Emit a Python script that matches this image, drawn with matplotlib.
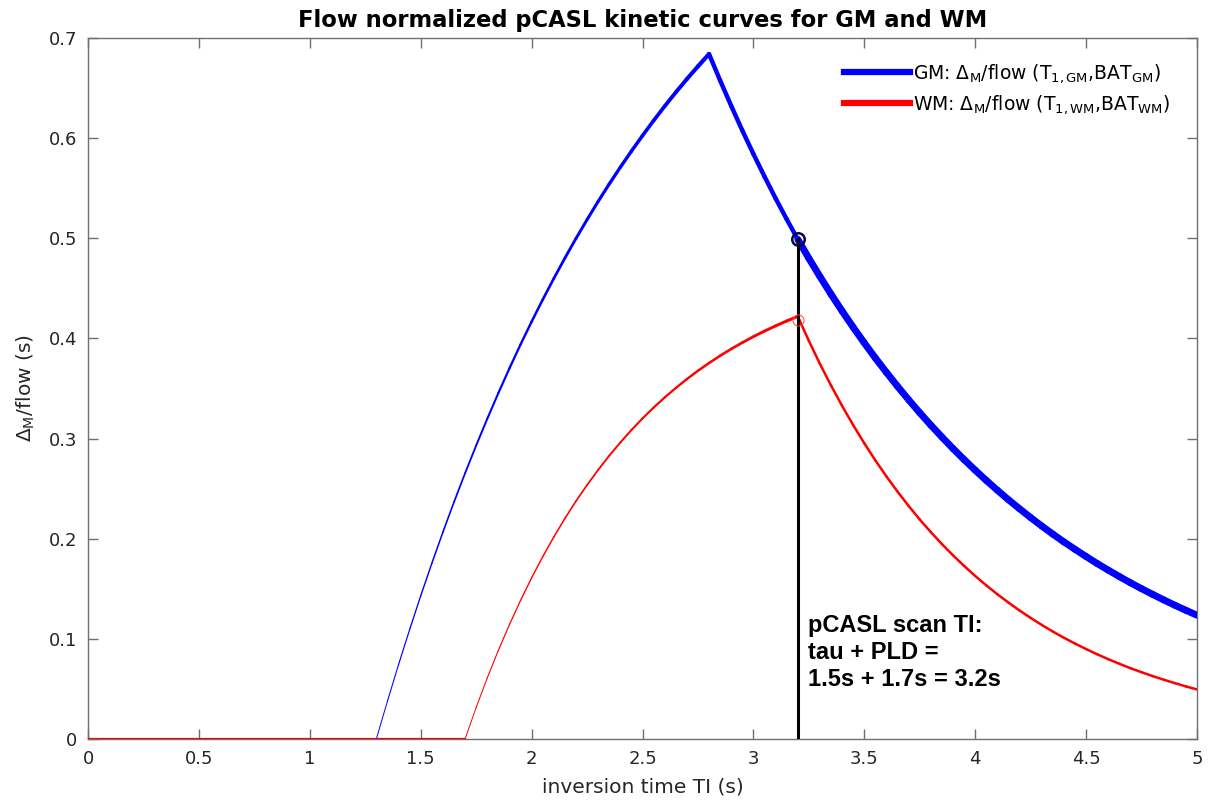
import numpy as np
import matplotlib
matplotlib.use('Agg')
import matplotlib.pyplot as plt
from matplotlib.collections import LineCollection
from matplotlib.lines import Line2D

plt.rcParams['mathtext.default'] = 'regular'

# inversion time (s) and flow-normalized signal (s)
ti_gm = [0.0, 1.3, 1.35, 1.4, 1.45, 1.5, 1.55, 1.6, 1.65, 1.7, 1.75, 1.8, 1.85, 1.9,
         1.95, 2.0, 2.05, 2.1, 2.15, 2.2, 2.25, 2.3, 2.35, 2.4, 2.45, 2.5, 2.55, 2.6,
         2.65, 2.7, 2.75, 2.8, 2.85, 2.9, 2.95, 3.0, 3.05, 3.1, 3.15, 3.2, 3.25, 3.3,
         3.35, 3.4, 3.45, 3.5, 3.55, 3.6, 3.65, 3.7, 3.75, 3.8, 3.85, 3.9, 3.95, 4.0,
         4.05, 4.1, 4.15, 4.2, 4.25, 4.3, 4.35, 4.4, 4.45, 4.5, 4.55, 4.6, 4.65, 4.7,
         4.75, 4.8, 4.85, 4.9, 4.95, 5.0]
dm_gm = [0.0, 0.0, 0.0378, 0.0742, 0.1092, 0.1429, 0.1753, 0.2065, 0.2365, 0.2653,
         0.2931, 0.3197, 0.3454, 0.3701, 0.3939, 0.4167, 0.4387, 0.4598, 0.4802,
         0.4998, 0.5186, 0.5368, 0.5542, 0.5709, 0.5870, 0.6025, 0.6175, 0.6319,
         0.6457, 0.6590, 0.6717, 0.6840, 0.6576, 0.6322, 0.6077, 0.5842, 0.5617,
         0.5399, 0.5191, 0.4990, 0.4800, 0.4618, 0.4442, 0.4273, 0.4111, 0.3955,
         0.3804, 0.3660, 0.3521, 0.3387, 0.3258, 0.3134, 0.3015, 0.2900, 0.2790,
         0.2684, 0.2582, 0.2484, 0.2389, 0.2299, 0.2211, 0.2127, 0.2046, 0.1968,
         0.1894, 0.1822, 0.1752, 0.1686, 0.1622, 0.1560, 0.1501, 0.1444, 0.1389,
         0.1336, 0.1285, 0.1236]

ti_wm = [0.0, 1.7, 1.75, 1.8, 1.85, 1.9, 1.95, 2.0, 2.05, 2.1, 2.15, 2.2, 2.25, 2.3,
         2.35, 2.4, 2.45, 2.5, 2.55, 2.6, 2.65, 2.7, 2.75, 2.8, 2.85, 2.9, 2.95, 3.0,
         3.05, 3.1, 3.15, 3.2, 3.25, 3.3, 3.35, 3.4, 3.45, 3.5, 3.55, 3.6, 3.65, 3.7,
         3.75, 3.8, 3.85, 3.9, 3.95, 4.0, 4.05, 4.1, 4.15, 4.2, 4.25, 4.3, 4.35, 4.4,
         4.45, 4.5, 4.55, 4.6, 4.65, 4.7, 4.75, 4.8, 4.85, 4.9, 4.95, 5.0]
dm_wm = [0.0, 0.0, 0.0315, 0.0609, 0.0885, 0.1142, 0.1383, 0.1609, 0.1820, 0.2017,
         0.2202, 0.2375, 0.2536, 0.2687, 0.2829, 0.2961, 0.3085, 0.3201, 0.3309,
         0.3410, 0.3505, 0.3594, 0.3677, 0.3754, 0.3827, 0.3895, 0.3958, 0.4018,
         0.4073, 0.4125, 0.4174, 0.4220, 0.3976, 0.3746, 0.3530, 0.3326, 0.3134,
         0.2953, 0.2782, 0.2621, 0.2470, 0.2327, 0.2192, 0.2066, 0.1946, 0.1834,
         0.1728, 0.1628, 0.1534, 0.1445, 0.1362, 0.1283, 0.1209, 0.1139, 0.1073,
         0.1011, 0.0953, 0.0898, 0.0846, 0.0797, 0.0751, 0.0707, 0.0667, 0.0628,
         0.0592, 0.0558, 0.0525, 0.0495]

bat_gm = 1.3
bat_wm = 1.7
peak_gm = 2.8
scan_ti = 3.2

label_gm = r'GM: $\Delta_M$/flow (T$_{1,GM}$,BAT$_{GM}$)'
label_wm = r'WM: $\Delta_M$/flow (T$_{1,WM}$,BAT$_{WM}$)'
note = 'pCASL scan TI:\ntau + PLD =\n1.5s + 1.7s = 3.2s'

GREY = '#707070'


def segments(x, y):
    pts = np.column_stack([x, y])
    return np.stack([pts[:-1], pts[1:]], axis=1)


def widths(x, start, stop, w_flat, w_rise0, w_rise1, w_mid, w_tail, mid_stop):
    # line gets thicker along the rising part, as in the original figure
    x = np.asarray(x)
    xm = 0.5 * (x[:-1] + x[1:])
    lw = np.empty(len(xm))
    rise = (xm > start) & (xm < stop)
    lw[xm <= start] = w_flat
    lw[rise] = np.linspace(w_rise0, w_rise1, rise.sum())
    lw[(xm >= stop) & (xm < mid_stop)] = w_mid
    lw[xm >= mid_stop] = w_tail
    return lw


fig = plt.figure(figsize=(12.1, 8.0), dpi=100)
ax = fig.add_axes([88 / 1210, 61 / 800, 1109 / 1210, 701 / 800])

lw_gm = widths(ti_gm, bat_gm, peak_gm, 1.0, 0.7, 3.0, 3.2, 5.0, scan_ti)
ax.add_collection(LineCollection(segments(ti_gm, dm_gm), colors='#0000ff',
                                 linewidths=lw_gm, capstyle='round', zorder=3))
lw_wm = widths(ti_wm, bat_wm, scan_ti, 1.6, 0.7, 2.2, 1.8, 1.8, scan_ti)
ax.add_collection(LineCollection(segments(ti_wm, dm_wm), colors='#ff0000',
                                 linewidths=lw_wm, capstyle='round', zorder=4))

i_gm = ti_gm.index(scan_ti)
i_wm = ti_wm.index(scan_ti)
ax.plot([scan_ti, scan_ti], [0, dm_gm[i_gm]], color='black', lw=2.2, zorder=5)
ax.plot(scan_ti, dm_gm[i_gm], 'o', ms=9, mfc='none', mec='#0a0a3c', mew=1.8, zorder=6)
ax.plot(scan_ti, dm_wm[i_wm] - 0.004, 'o', ms=8, mfc='none', mec='#ff4040', mew=0.7,
        zorder=6)

ax.text(3.245, 0.125, note, fontsize=17, fontweight='bold', family='Liberation Sans',
        va='top', ha='left', linespacing=1.22)

handles = [Line2D([], [], color='#0000ff', lw=4.5),
           Line2D([], [], color='#ff0000', lw=4.5)]
ax.legend(handles, [label_gm, label_wm], loc='upper right', frameon=False,
          fontsize=13.5, handlelength=3.5, handletextpad=0.15, labelspacing=0.45,
          borderaxespad=0.0, borderpad=0.0, bbox_to_anchor=(0.976, 0.966))

ax.set_xlim(0, 5)
ax.set_ylim(0, 0.7)
ax.set_xticks(np.arange(0, 5.01, 0.5))
ax.set_yticks(np.arange(0, 0.71, 0.1))
ax.set_xticklabels(['0', '0.5', '1', '1.5', '2', '2.5', '3', '3.5', '4', '4.5', '5'])
ax.set_yticklabels(['0', '0.1', '0.2', '0.3', '0.4', '0.5', '0.6', '0.7'])
ax.tick_params(direction='in', top=True, right=True, length=7, width=1.0,
               color=GREY, labelsize=13, labelcolor='#262626', pad=8)
for sp in ax.spines.values():
    sp.set_color(GREY)
    sp.set_linewidth(1.0)

ax.set_xlabel('inversion time TI (s)', fontsize=14.5, color='#262626', labelpad=7)
ax.set_ylabel(r'$\Delta_M$/flow (s)', fontsize=14.5, color='#262626', labelpad=8)
ax.set_title('Flow normalized pCASL kinetic curves for GM and WM', fontsize=16.3,
             fontweight='bold', pad=8)

fig.savefig('out.png', dpi=100)
